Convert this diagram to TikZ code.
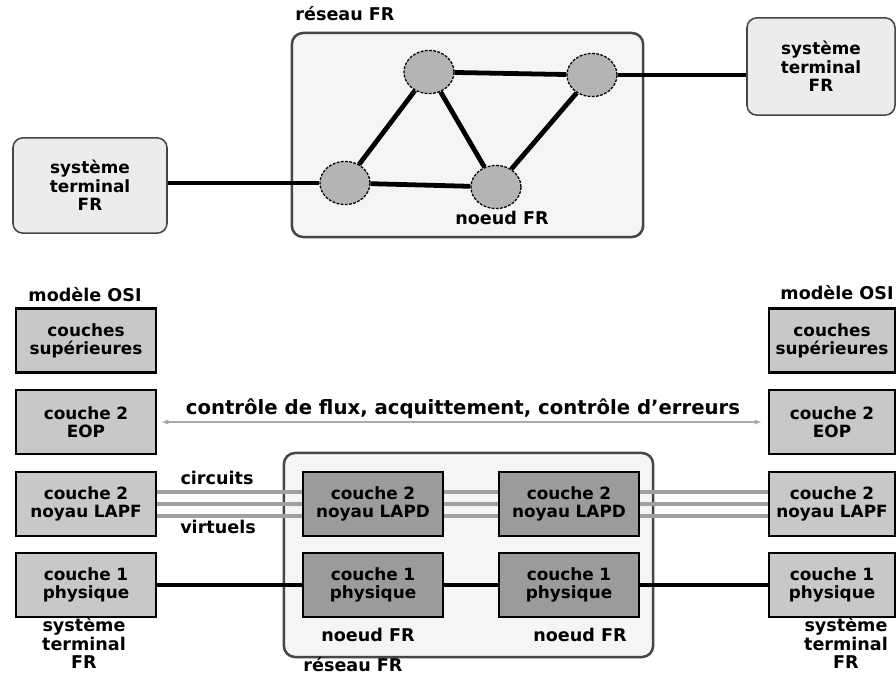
\documentclass[tikz,border=0pt]{standalone}
\usepackage{fontspec}
\setmainfont{DejaVu Sans}
\usetikzlibrary{arrows.meta, shapes.geometric, positioning}
\definecolor{netfill}  {RGB}{245,245,245}
\definecolor{netline}  {RGB}{ 70, 70, 70}
\definecolor{termfill} {RGB}{236,236,236}
\definecolor{swfill}   {RGB}{180,180,180}
\definecolor{osifill}  {RGB}{200,200,200}
\definecolor{innerfill}{RGB}{155,155,155}
\definecolor{vcgray}   {RGB}{160,160,160}
\definecolor{ctrlgray} {RGB}{170,170,170}
\newcommand\lblfont{\fontsize{12.5}{13}\selectfont\bfseries}
\newcommand\boxfont{\fontsize{12}{13}\selectfont\bfseries}
\tikzset{
  % plain label
  LB/.style={font=\lblfont,align=center,inner sep=0pt},
  % FR network frame
  NET/.style={rectangle,rounded corners=8pt,draw=netline,fill=netfill,
              line width=1.8pt},
  % terminal system box (top)
  TS/.style={rectangle,rounded corners=7pt,draw=netline,fill=termfill,
             font=\boxfont,align=center,line width=1.1pt},
  % FR switch
  SW/.style={ellipse,draw=black,fill=swfill,dash pattern=on 2pt off 1pt,
             minimum width=1.25cm,minimum height=1.08cm,line width=0.9pt},
  % OSI layer box (terminal side)
  OB/.style={rectangle,draw=black,fill=osifill,text width=#1,
             minimum height=1.6cm,align=center,font=\boxfont,
             inner sep=0pt,line width=2pt},
  OB/.default=3.5cm,
  % layer box inside the network
  IB/.style={rectangle,draw=black,fill=innerfill,text width=3.5cm,
             minimum height=1.6cm,align=center,font=\boxfont,
             inner sep=0pt,line width=2pt},
  % links
  LK/.style ={line width=3.4pt,color=black},
  PH/.style ={line width=2.8pt,color=black},
  VC/.style ={line width=2.8pt,color=vcgray},
  CA/.style ={{Latex[length=5pt,width=4pt]}-{Latex[length=5pt,width=4pt]},
              line width=0.8pt,color=ctrlgray},
}
\begin{document}
\begin{tikzpicture}[x=0.025cm,y=-0.025cm]
  \useasboundingbox (0,0) rectangle (896,676);
  % ---- FR network (top)
  \node[NET,minimum width=8.78cm,minimum height=5.1cm] at (467.5,135) (net) {};
  \node[LB] at (345,14) (netlbl) {réseau FR};
  \node[TS,minimum width=3.85cm,minimum height=2.38cm] at (90,185.5) (tsl)
        {système\\terminal\\FR};
  \node[TS,minimum width=3.7cm,minimum height=2.43cm] at (821,66.5) (tsr)
        {système\\terminal\\FR};
  \node[SW] at (429,72)  (sw1) {};
  \node[SW] at (592,75)  (sw2) {};
  \node[SW] at (345,183) (sw3) {};
  \node[SW] at (496,187) (sw4) {};
  \node[LB] at (502,218) (swlbl) {noeud FR};
  \draw[LK] (sw1) -- (sw2);
  \draw[LK] (sw1) -- (sw3);
  \draw[LK] (sw1) -- (sw4);
  \draw[LK] (sw3) -- (sw4);
  \draw[LK] (sw4) -- (sw2);
  \draw[LK] (tsl.east |- sw3.west) -- (sw3.west);
  \draw[LK] (sw2.east) -- (sw2.east -| tsr.west);

  % ---- protocol stacks (bottom)
  \node[NET,minimum width=9.23cm,minimum height=5.1cm] at (468.5,555) (netb) {};
  \node[LB] at (85,295)  (osil) {modèle OSI};
  \node[OB] at (86,340.5) (l1) {couches\\supérieures};
  \node[OB] at (86,422)   (l2) {couche 2\\EOP};
  \node[OB] at (86,504)   (l3) {couche 2\\noyau LAPF};
  \node[OB] at (86,585)   (l4) {couche 1\\physique};
  \node[LB] at (84,643)   (tsbl) {système\\terminal\\FR};
  \node[LB] at (837,293)  (osir) {modèle OSI};
  \node[OB=3.15cm] at (832,340.5) (r1) {couches\\supérieures};
  \node[OB=3.15cm] at (832,422)   (r2) {couche 2\\EOP};
  \node[OB=3.15cm] at (832,504)   (r3) {couche 2\\noyau LAPF};
  \node[OB=3.15cm] at (832,585)   (r4) {couche 1\\physique};
  \node[LB] at (846,643)  (tsbr) {système\\terminal\\FR};

  \node[IB] at (373,504) (d1) {couche 2\\noyau LAPD};
  \node[IB] at (569,504) (d2) {couche 2\\noyau LAPD};
  \node[IB] at (373,585) (p1) {couche 1\\physique};
  \node[IB] at (569,585) (p2) {couche 1\\physique};
  \node[LB] at (368,635) (n1lbl) {noeud FR};
  \node[LB] at (580,635) (n2lbl) {noeud FR};
  \node[LB] at (353,665) (netblbl) {réseau FR};

  \foreach \o in {-0.31cm,0cm,0.31cm} {
    \draw[VC] ([yshift=\o]l3.east) -- ([yshift=\o]d1.west);
    \draw[VC] ([yshift=\o]d1.east) -- ([yshift=\o]d2.west);
    \draw[VC] ([yshift=\o]d2.east) -- ([yshift=\o]r3.west);
  }
  \node[LB] at (217,478) (vc1) {circuits};
  \node[LB] at (218,527) (vc2) {virtuels};

  \draw[PH] (l4) -- (p1);
  \draw[PH] (p1) -- (p2);
  \draw[PH] (p2) -- (r4);

  \draw[CA] ([xshift=0.1cm]l2.east) -- ([xshift=-0.15cm]r2.west);
  \node[LB,font=\fontsize{14}{15}\selectfont\bfseries] at (463,409) (ctrl)
        {contrôle de flux, acquittement, contrôle d'erreurs};
\end{tikzpicture}
\end{document}
